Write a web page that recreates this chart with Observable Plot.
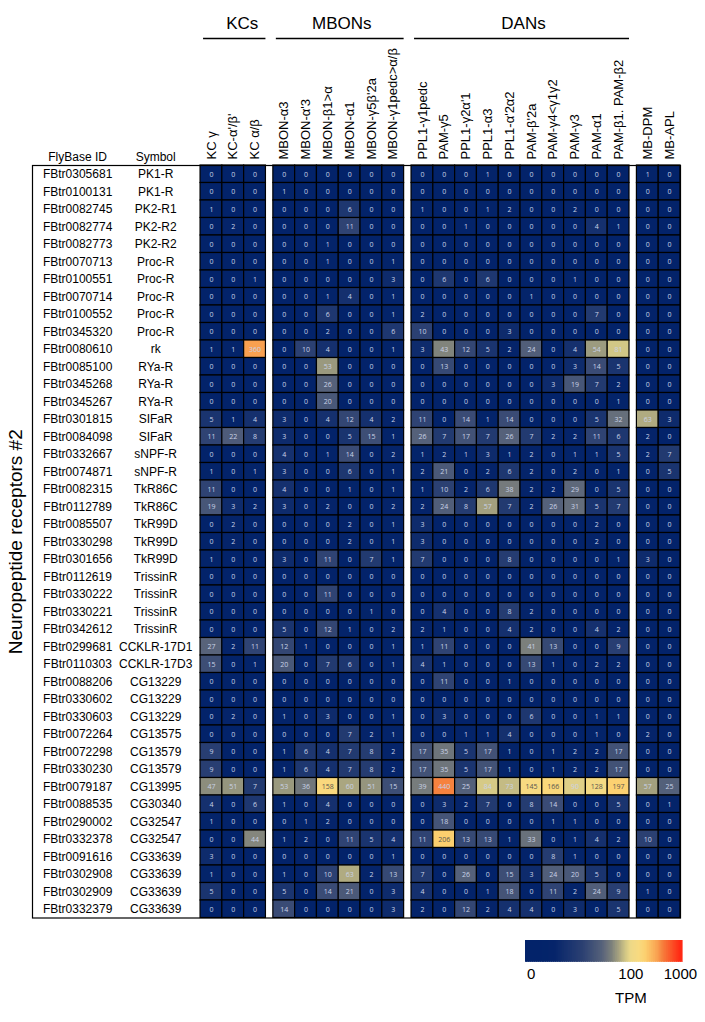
<!DOCTYPE html>
<html><head><meta charset="utf-8">
<script src="https://cdn.jsdelivr.net/npm/d3@7"></script>
<script src="https://cdn.jsdelivr.net/npm/@observablehq/plot@0.6"></script>
<style>
body{margin:0;background:#fff;font-family:"Liberation Sans",Arial,sans-serif}
svg{display:block}
</style>
</head><body><div id="chart"></div><div id="legend"></div><script>
// ---------- data ----------
const columns = ["KC γ","KC-α'/β'","KC α/β",
  "MBON-α3","MBON-α'3","MBON-β1>α","MBON-α1","MBON-γ5β'2a","MBON-γ1pedc>α/β",
  "PPL1-γ1pedc","PAM-γ5","PPL1-γ2α'1","PPL1-α3","PPL1-α'2α2","PAM-β'2a","PAM-γ4<γ1γ2","PAM-γ3","PAM-α1","PAM-β1. PAM-β2",
  "MB-DPM","MB-APL"];
const columnGroup = [0,0,0, 1,1,1,1,1,1, 2,2,2,2,2,2,2,2,2,2, 3,3];
const groupNames = ["KCs","MBONs","DANs"];

const flybaseIds = ["FBtr0305681","FBtr0100131","FBtr0082745","FBtr0082774","FBtr0082773","FBtr0070713","FBtr0100551","FBtr0070714","FBtr0100552","FBtr0345320","FBtr0080610","FBtr0085100","FBtr0345268","FBtr0345267","FBtr0301815","FBtr0084098","FBtr0332667","FBtr0074871","FBtr0082315","FBtr0112789","FBtr0085507","FBtr0330298","FBtr0301656","FBtr0112619","FBtr0330222","FBtr0330221","FBtr0342612","FBtr0299681","FBtr0110303","FBtr0088206","FBtr0330602","FBtr0330603","FBtr0072264","FBtr0072298","FBtr0330230","FBtr0079187","FBtr0088535","FBtr0290002","FBtr0332378","FBtr0091616","FBtr0302908","FBtr0302909","FBtr0332379"];
const symbols = ["PK1-R","PK1-R","PK2-R1","PK2-R2","PK2-R2","Proc-R","Proc-R","Proc-R","Proc-R","Proc-R","rk","RYa-R","RYa-R","RYa-R","SIFaR","SIFaR","sNPF-R","sNPF-R","TkR86C","TkR86C","TkR99D","TkR99D","TkR99D","TrissinR","TrissinR","TrissinR","TrissinR","CCKLR-17D1","CCKLR-17D3","CG13229","CG13229","CG13229","CG13575","CG13579","CG13579","CG13995","CG30340","CG32547","CG32547","CG33639","CG33639","CG33639","CG33639"];

const tpm = [
 [0,0,0, 0,0,0,0,0,0, 0,0,0,1,0,0,0,0,0,0, 1,0],
 [0,0,0, 1,0,0,0,0,0, 0,0,0,0,0,0,0,0,0,0, 0,0],
 [1,0,0, 0,0,0,6,0,0, 1,0,0,1,2,0,0,2,0,0, 0,0],
 [0,2,0, 0,0,0,11,0,0, 0,0,1,0,0,0,0,0,4,1, 0,0],
 [0,0,0, 0,0,1,0,0,0, 0,0,0,0,0,0,0,0,0,0, 0,0],
 [0,0,0, 0,0,1,0,0,1, 0,0,0,0,0,0,0,0,0,0, 0,0],
 [0,0,1, 0,0,0,0,0,3, 0,6,0,6,0,0,0,1,0,0, 0,0],
 [0,0,0, 0,0,1,4,0,1, 0,0,0,0,0,1,0,0,0,0, 0,0],
 [0,0,0, 0,0,6,0,0,1, 2,0,0,0,0,0,0,0,7,0, 0,0],
 [0,0,0, 0,0,2,0,0,6, 10,0,0,0,3,0,0,0,0,0, 0,0],
 [1,1,360, 0,10,4,0,0,1, 3,43,12,5,2,24,0,4,54,81, 0,0],
 [0,0,0, 0,0,53,0,0,0, 0,13,0,0,0,0,0,3,14,5, 0,0],
 [0,0,0, 0,0,26,0,0,0, 0,0,0,0,0,0,3,19,7,2, 0,0],
 [0,0,0, 0,0,20,0,0,0, 0,0,0,0,0,0,0,0,0,1, 0,0],
 [5,1,4, 3,0,4,12,4,2, 11,0,14,1,14,0,0,0,5,32, 63,3],
 [11,22,8, 3,0,0,5,15,1, 26,7,17,7,26,7,2,2,11,6, 2,0],
 [0,0,0, 4,0,1,14,0,2, 1,2,1,3,1,2,0,1,1,5, 2,7],
 [1,0,1, 3,0,0,6,0,1, 2,21,0,2,6,2,0,2,0,1, 0,5],
 [11,0,0, 4,0,0,1,0,1, 1,10,2,6,38,2,2,29,0,5, 0,0],
 [19,3,2, 3,0,2,0,0,2, 2,24,8,57,7,2,26,31,5,7, 0,0],
 [0,2,0, 0,0,0,2,0,1, 3,0,0,0,0,0,0,0,2,0, 0,0],
 [0,2,0, 0,0,0,2,0,1, 3,0,0,0,0,0,0,0,2,0, 0,0],
 [1,0,0, 3,0,11,0,7,1, 7,0,0,0,8,0,0,0,0,1, 3,0],
 [0,0,0, 0,0,0,0,0,0, 0,0,0,0,0,0,0,0,0,0, 0,0],
 [0,0,0, 0,0,11,0,0,0, 0,0,0,0,0,0,0,0,0,0, 0,0],
 [0,0,0, 0,0,0,0,1,0, 0,4,0,0,8,2,0,0,0,0, 0,0],
 [0,0,0, 5,0,12,1,0,2, 2,1,0,0,4,2,0,0,4,2, 0,0],
 [27,2,11, 12,1,0,0,0,1, 1,11,0,0,0,41,13,0,0,9, 0,0],
 [15,0,1, 20,0,7,6,0,1, 4,1,0,0,0,13,1,0,2,2, 0,0],
 [0,0,0, 0,0,0,0,0,0, 0,11,0,0,1,0,0,0,0,0, 0,0],
 [0,0,0, 0,0,0,0,0,0, 0,0,0,0,0,0,0,0,0,0, 0,0],
 [0,2,0, 1,0,3,0,0,1, 0,3,0,0,0,6,0,0,1,1, 0,0],
 [0,0,0, 0,0,0,7,2,1, 0,0,1,1,4,0,0,0,1,0, 2,0],
 [9,0,0, 1,6,4,7,8,2, 17,35,5,17,1,0,1,2,2,17, 0,0],
 [9,0,0, 1,6,4,7,8,2, 17,35,5,17,1,0,1,2,2,17, 0,0],
 [47,51,7, 53,36,158,60,51,15, 39,440,25,84,73,145,166,90,128,197, 57,25],
 [4,0,6, 1,0,4,0,0,0, 0,3,2,7,0,8,14,0,0,5, 0,1],
 [1,0,0, 0,1,2,0,0,0, 0,18,0,0,0,0,1,1,0,0, 0,0],
 [0,0,44, 1,2,0,11,5,4, 11,206,13,13,1,33,0,1,4,2, 10,0],
 [3,0,0, 0,0,0,0,0,1, 0,0,0,0,0,0,8,1,0,0, 0,0],
 [1,0,0, 1,0,10,63,2,13, 7,0,26,0,15,3,24,20,5,0, 0,0],
 [5,0,0, 5,0,14,21,0,3, 4,0,0,1,18,0,11,2,24,9, 1,0],
 [0,0,0, 14,0,0,0,0,3, 2,0,12,2,4,4,0,3,0,5, 0,0]
];

const legendTicks = [0, 100, 1000];
const legendLabel = "TPM";
const axisTitle = "Neuropeptide receptors #2";

// colour ramp (TPM stops -> colours), symlog scale
const colorStops = [0, 2, 4, 10, 26, 41, 57, 81, 100, 150, 200, 360, 440, 1000];
const colorRange = ["#03236a","#05246a","#15306e","#2b4072","#55617a","#7b7f7c","#a3a07f","#d2c786","#ecd888","#f8da80","#fcd170","#f9a050","#f6823e","#ff2a14"];

// ---------- layout ----------
const W = 705, TOP = 165, ROWH = 17.5, LEFT = 32, RIGHT = 25;
const GAP = 0.34, TABLE = 7.71;
const N = flybaseIds.length;
const colPos = columnGroup.map((g, i) => i + g * GAP);
const xMax = columns.length + 3 * GAP;
const ID_X = -5.64, SYM_X = -2.06;
const H = TOP + N * ROWH + 5;

const cells = [];
tpm.forEach((row, r) => row.forEach((v, c) => cells.push({r, c, v})));
const groups = groupNames.map((name, g) => {
  const idx = columnGroup.map((gg, i) => gg === g ? i : -1).filter(i => i >= 0);
  return {name, x1: colPos[idx[0]], x2: colPos[idx[idx.length - 1]] + 1};
});
const groupNudge = [9, 3, 3];

const color = {type: "symlog", constant: 1, domain: colorStops, range: colorRange, clamp: true, interpolate: "rgb"};
const font = "'Liberation Sans', Arial, sans-serif";

const chart = Plot.plot({
  width: W, height: H,
  marginTop: TOP, marginLeft: LEFT, marginRight: RIGHT, marginBottom: 5,
  x: {type: "linear", domain: [-TABLE, xMax], axis: null},
  y: {type: "linear", domain: [0, N], range: [TOP, TOP + N * ROWH], axis: null},
  color,
  style: {fontFamily: font, fontSize: "12px", color: "black", background: "white"},
  marks: [
    Plot.rect(cells, {x1: d => colPos[d.c], x2: d => colPos[d.c] + 1, y1: d => d.r, y2: d => d.r + 1,
      fill: "v", stroke: "black", strokeWidth: 1.2}),
    Plot.text(cells.filter(d => !(d.v >= 100 && d.v < 300)), {x: d => colPos[d.c] + 0.5, y: d => d.r + 0.5,
      text: d => String(d.v), fontSize: 7, fill: "#c9d2e6", fontFamily: "'Open Sans', sans-serif"}),
    Plot.text(cells.filter(d => d.v >= 100 && d.v < 300), {x: d => colPos[d.c] + 0.5, y: d => d.r + 0.5,
      text: d => String(d.v), fontSize: 7, fill: "#5a5650", fontFamily: "'Open Sans', sans-serif"}),
    Plot.text(flybaseIds, {x: () => ID_X, y: (d, i) => i + 0.5, text: d => d, fontSize: 12}),
    Plot.text(symbols, {x: () => SYM_X, y: (d, i) => i + 0.5, text: d => d, fontSize: 12}),
    Plot.text(["FlyBase ID"], {x: ID_X, y: 0, dy: -5, lineAnchor: "bottom", fontSize: 12}),
    Plot.text(["Symbol"], {x: SYM_X, y: 0, dy: -5, lineAnchor: "bottom", fontSize: 12}),
    Plot.text(columns, {x: (d, i) => colPos[i] + 0.5, y: 0, dy: -6, rotate: -90, textAnchor: "start", fontSize: 13}),
    Plot.ruleY(groups, {y: 0, x1: "x1", x2: "x2", dy: 38 - TOP, insetLeft: 3, stroke: "black", strokeWidth: 1.6}),
    ...groups.map((g, i) => Plot.text([g], {x: d => (d.x1 + d.x2) / 2, y: 0, dy: 23 - TOP, dx: groupNudge[i], text: "name", fontSize: 17})),
    Plot.text([axisTitle], {x: -TABLE, y: N / 2, dx: -17, rotate: -90, fontSize: 19}),
    Plot.frame({stroke: "black", strokeWidth: 1.2})
  ]
});
document.getElementById("chart").append(chart);

// ---------- legend ----------
const s0 = -Math.log(1.3), s1 = Math.log(1101);
const inv = s => s >= 0 ? Math.exp(s) - 1 : 1 - Math.exp(-s);
const steps = d3.range(0, 240).map(i => {
  const a = s0 + (s1 - s0) * i / 240, b = s0 + (s1 - s0) * (i + 1) / 240;
  return {x1: inv(a), x2: inv(b), v: Math.max(0, inv((a + b) / 2))};
});
const LH = 1022 - H;
const legend = Plot.plot({
  width: W, height: LH,
  marginTop: 17, marginBottom: LH - 38, marginLeft: 525, marginRight: 23,
  x: {type: "symlog", constant: 1, domain: [-0.3, 1100], ticks: legendTicks, tickFormat: d => String(d), tickSize: 0, tickPadding: 7, label: null},
  y: {domain: [0, 1], axis: null},
  color,
  style: {fontFamily: font, fontSize: "15px", color: "black", background: "white"},
  marks: [
    Plot.rect(steps, {x1: "x1", x2: "x2", y1: 0, y2: 1, fill: "v", stroke: "v", strokeWidth: 0.6, shapeRendering: "crispEdges"}),
    Plot.text([legendLabel], {x: 100, y: 0, dy: 37, fontSize: 15})
  ]
});
document.getElementById("legend").append(legend);
</script></body></html>
